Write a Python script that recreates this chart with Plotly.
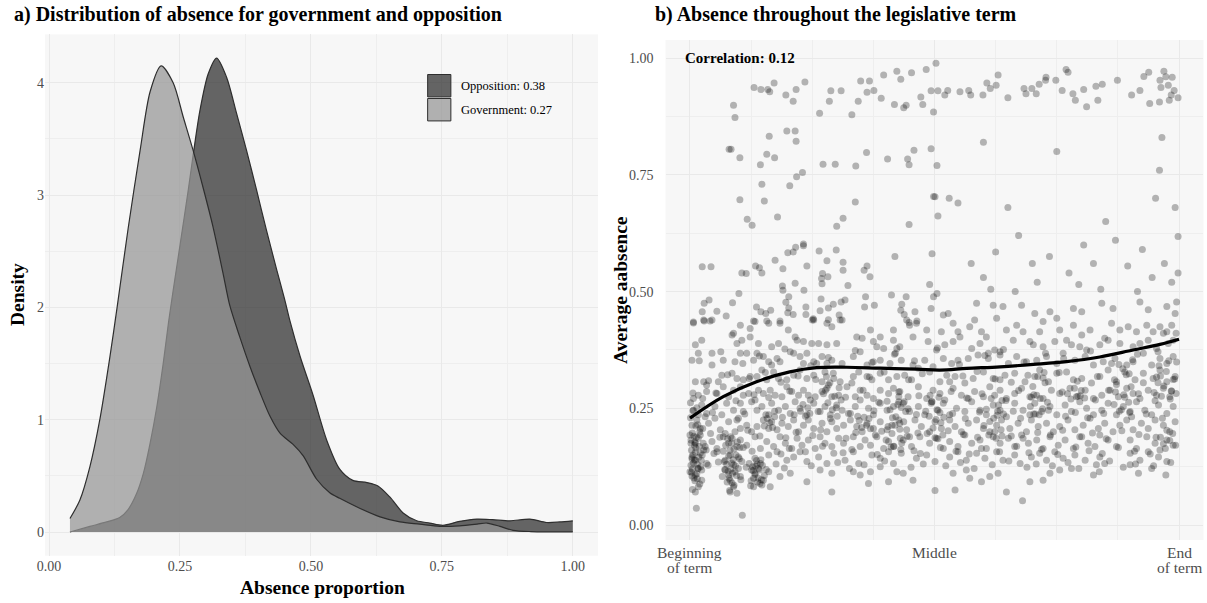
import plotly.graph_objects as go

FONT = "Liberation Serif"

# ---- panel a: kernel density of absence by side of the house ----
opp_absence = [0.040, 0.078, 0.110, 0.135, 0.151, 0.167, 0.180, 0.193, 0.206, 0.218,
               0.228, 0.237, 0.250, 0.266, 0.275, 0.288, 0.304, 0.320, 0.339, 0.358,
               0.377, 0.396, 0.415, 0.435, 0.450, 0.460, 0.479, 0.504, 0.530, 0.555,
               0.580, 0.607, 0.628, 0.651, 0.676, 0.702, 0.727, 0.752, 0.784, 0.817,
               0.847, 0.880, 0.918, 0.950, 0.975, 1.000]
opp_density = [0.00, 0.05, 0.09, 0.13, 0.20, 0.34, 0.52, 0.79, 1.12, 1.50,
               1.86, 2.15, 2.55, 3.05, 3.35, 3.75, 4.08, 4.22, 4.05, 3.73,
               3.40, 3.05, 2.69, 2.33, 2.07, 1.88, 1.57, 1.22, 0.82, 0.56,
               0.46, 0.44, 0.41, 0.31, 0.17, 0.10, 0.08, 0.06, 0.095, 0.115,
               0.11, 0.10, 0.115, 0.085, 0.09, 0.10]

gov_absence = [0.040, 0.059, 0.078, 0.097, 0.116, 0.130, 0.151, 0.174, 0.193, 0.214,
               0.237, 0.256, 0.275, 0.294, 0.313, 0.332, 0.345, 0.364, 0.384, 0.403,
               0.422, 0.441, 0.466, 0.485, 0.511, 0.536, 0.555, 0.594, 0.632, 0.670,
               0.708, 0.746, 0.784, 0.817, 0.836, 0.861, 0.886, 0.920, 0.960, 1.000]
gov_density = [0.12, 0.285, 0.58, 1.00, 1.55, 2.00, 2.70, 3.40, 3.92, 4.15,
               4.00, 3.70, 3.40, 3.07, 2.72, 2.31, 2.02, 1.74, 1.47, 1.24,
               1.03, 0.88, 0.78, 0.68, 0.47, 0.35, 0.30, 0.21, 0.135, 0.09,
               0.07, 0.05, 0.055, 0.07, 0.08, 0.05, 0.015, 0.004, 0.002, 0.002]

opp_mean = 0.38
gov_mean = 0.27

# ---- panel b: MP average absence vs. position in the term ----
# pairs are (term position, average absence), both in thousandths
mps_top = [
    (89, 899), (92, 873), (131, 937), (145, 933), (159, 933), (163, 928), (172, 947), (196, 921),
    (211, 908), (217, 933), (235, 949), (265, 882), (285, 908), (288, 930), (309, 930), (331, 879),
    (344, 908), (349, 951), (367, 951), (362, 927), (376, 931), (391, 914), (396, 964), (418, 901),
    (423, 972), (431, 955), (437, 894), (442, 899), (453, 969), (472, 917), (476, 901), (483, 976),
    (493, 930), (498, 885), (503, 989), (507, 930), (521, 921), (527, 931), (552, 928), (570, 931),
    (574, 921), (599, 921), (607, 947), (614, 935), (626, 942), (630, 964), (650, 915), (683, 935),
    (687, 924), (699, 935), (708, 924), (714, 944), (727, 953), (728, 959), (748, 953), (761, 931),
    (769, 976), (773, 970), (783, 924), (788, 910), (805, 933), (811, 896), (830, 940), (834, 910),
    (843, 944), (874, 953), (903, 921), (920, 931), (928, 961), (938, 970), (940, 903), (960, 906),
    (961, 953), (969, 972), (973, 960), (963, 937), (978, 942), (986, 959), (990, 931), (984, 921),
    (998, 915), (980, 910),
]

mps_mid_early = [
    (80, 805), (84, 805), (102, 787), (162, 833), (198, 844), (215, 844), (217, 822), (157, 794),
    (173, 787), (144, 772), (230, 755), (218, 746), (204, 727), (147, 730), (152, 694), (102, 697),
    (117, 655), (127, 642), (179, 660), (272, 773), (297, 773), (339, 769), (361, 798), (404, 784),
    (445, 784), (448, 772), (458, 803), (493, 806), (505, 770), (498, 704), (501, 703), (507, 662),
    (338, 692), (313, 657), (300, 640), (448, 644),
    (232, 602), (232, 598), (216, 595), (211, 585), (200, 583), (264, 587), (299, 589), (174, 567),
    (280, 566), (313, 563), (419, 575), (495, 581), (25, 553), (43, 553), (134, 555), (142, 551),
    (147, 540), (106, 540), (115, 539), (190, 549), (239, 555), (271, 539), (269, 528), (282, 532),
    (313, 546), (323, 513), (356, 546), (362, 555), (368, 532), (189, 512), (190, 503), (215, 518),
    (233, 503), (270, 517), (100, 496), (202, 489), (268, 484), (359, 489), (412, 493), (442, 489),
    (490, 515), (498, 489), (505, 496),
    (39, 482), (29, 475), (87, 476), (136, 467), (145, 457), (155, 453), (165, 460), (196, 477),
    (202, 465), (200, 455), (211, 451), (237, 467), (237, 451), (250, 439), (266, 459), (283, 465),
    (293, 473), (305, 450), (311, 439), (309, 478), (317, 482), (357, 467), (377, 471), (433, 473),
    (431, 460), (438, 451), (460, 457), (493, 464), (25, 457), (55, 458), (74, 448), (7, 435),
    (29, 437), (41, 437), (130, 437), (157, 437), (184, 437), (252, 442), (283, 440), (448, 434),
    (464, 437),
]

mps_low_early = [
    (7, 433), (28, 439), (45, 439), (89, 411), (103, 428), (123, 421), (133, 436), (161, 432),
    (184, 432), (201, 418), (253, 439), (280, 432), (290, 425), (307, 439), (341, 403), (352, 400),
    (369, 418), (389, 403), (416, 418),
    (11, 386), (24, 396), (45, 368), (86, 407), (96, 389), (106, 396), (123, 403), (140, 389),
    (167, 382), (181, 389), (205, 371), (215, 403), (219, 396), (232, 393), (249, 389), (263, 389),
    (280, 386), (300, 389), (348, 371), (375, 393), (382, 382), (396, 378), (416, 396), (423, 378),
    (4, 353), (17, 368), (45, 343), (68, 353), (92, 350), (103, 368), (116, 368), (130, 353),
    (137, 368), (150, 361), (161, 350), (167, 343), (178, 357), (184, 350), (212, 368), (225, 361),
    (232, 346), (239, 368), (253, 350), (259, 346), (270, 361), (280, 346), (290, 353), (311, 346),
    (334, 361), (362, 343), (375, 350), (389, 353), (409, 346), (420, 368),
    (11, 307), (28, 307), (34, 300), (58, 307), (65, 321), (86, 325), (96, 314), (109, 311),
    (123, 318), (137, 318), (147, 332), (157, 311), (171, 328), (181, 314), (198, 311), (212, 321),
    (225, 332), (239, 314), (253, 321), (270, 307), (276, 328), (283, 300), (294, 314), (307, 307),
    (334, 318), (345, 328), (362, 318), (372, 311), (389, 325), (406, 311), (423, 318),
    (7, 271), (17, 278), (34, 286), (55, 282), (68, 296), (79, 275), (89, 289), (103, 296),
    (109, 278), (120, 282), (133, 268), (140, 289), (150, 282), (164, 289), (174, 278), (188, 275),
    (198, 296), (208, 286), (222, 278), (232, 289), (242, 278), (256, 275), (270, 286), (280, 293),
    (290, 275), (304, 278), (321, 296), (338, 275), (348, 289), (362, 278), (375, 271), (389, 289),
    (406, 282), (416, 293), (427, 275),
    (7, 246), (24, 257), (34, 239), (51, 254), (65, 236), (75, 261), (89, 246), (103, 261),
    (109, 243), (126, 264), (137, 246), (147, 254), (161, 236), (167, 261), (181, 246), (195, 254),
    (205, 239), (215, 264), (225, 250), (239, 236), (253, 261), (266, 243), (276, 254), (287, 236),
    (300, 257), (311, 246), (324, 239), (338, 254), (348, 268), (365, 250), (375, 236), (389, 261),
    (403, 246), (416, 254), (427, 264),
    (4, 214), (14, 225), (21, 207), (38, 218), (51, 229), (62, 204), (79, 221), (96, 225),
    (103, 207), (116, 214), (126, 200), (137, 211), (150, 225), (161, 207), (167, 221), (178, 204),
    (188, 218), (201, 211), (212, 225), (222, 200), (232, 214), (242, 225), (253, 207), (270, 218),
    (280, 200), (290, 221), (300, 207), (314, 214), (328, 225), (341, 211), (352, 200), (362, 218),
    (375, 207), (389, 221), (403, 204), (413, 214), (427, 225),
    (0, 193), (11, 175), (17, 186), (31, 168), (45, 179), (55, 164), (68, 189), (79, 175),
    (86, 186), (96, 168), (103, 182), (116, 171), (133, 189), (144, 164), (157, 179), (171, 168),
    (184, 189), (195, 175), (208, 164), (219, 186), (229, 171), (242, 182), (256, 164), (266, 189),
    (276, 175), (290, 168), (304, 186), (314, 175), (334, 189), (348, 168), (358, 182), (369, 171),
    (382, 189), (396, 164), (406, 179), (416, 168), (430, 186),
    (4, 146), (11, 139), (21, 154), (34, 132), (55, 157), (72, 139), (82, 150), (89, 129),
    (99, 146), (106, 136), (133, 143), (144, 132), (161, 150), (178, 157), (198, 139), (212, 146),
    (225, 157), (239, 136), (263, 146), (280, 132), (294, 154), (317, 139), (334, 157), (345, 132),
    (372, 150), (389, 143), (406, 157), (416, 132),
    (0, 114), (11, 107), (17, 121), (24, 96), (72, 118), (79, 107), (82, 96), (92, 114),
    (103, 104), (126, 118), (133, 111), (140, 121), (150, 96), (161, 114), (184, 104), (205, 111),
    (239, 93), (266, 118), (290, 111), (334, 114), (348, 107), (369, 114), (389, 125), (423, 114),
    (11, 71), (17, 82), (82, 71), (89, 82), (96, 68), (130, 82), (147, 86), (164, 82),
    (290, 71), (365, 89), (406, 93), (13, 36), (107, 21),
    (3, 160), (6, 150), (9, 140), (2, 175), (12, 165), (15, 130), (5, 120), (18, 145),
    (8, 190), (20, 200), (4, 105), (14, 110), (22, 125), (10, 95), (25, 150), (1, 230),
    (6, 245), (16, 215), (27, 175), (2, 128),
    (75, 130), (78, 115), (82, 160), (85, 175), (88, 140), (80, 100), (90, 85), (84, 120),
    (77, 185), (92, 200), (86, 90), (94, 150),
    (128, 125), (133, 108), (137, 130), (142, 118), (130, 100), (145, 140), (138, 92),
]

mps_low_late = [
    (528, 453), (586, 475), (620, 471), (640, 468), (678, 471), (705, 453), (736, 457), (750, 443),
    (784, 464), (801, 457), (842, 475), (865, 464), (920, 478), (937, 461), (975, 468), (992, 453),
    (995, 478), (518, 450),
    (443, 439), (449, 428), (463, 432), (484, 418), (514, 414), (538, 432), (548, 414), (572, 425),
    (582, 439), (596, 414), (606, 403), (627, 443), (647, 418), (668, 428), (681, 414), (715, 414),
    (722, 436), (756, 418), (784, 428), (801, 407), (818, 418), (848, 400), (862, 432), (879, 418),
    (896, 425), (913, 414), (934, 428), (947, 414), (961, 425), (975, 414), (985, 428), (994, 411),
    (429, 382), (456, 403), (487, 393), (504, 375), (521, 386), (538, 393), (552, 403), (576, 378),
    (593, 389), (610, 368), (623, 375), (634, 371), (661, 396), (695, 393), (702, 386), (722, 382),
    (746, 393), (770, 396), (780, 386), (797, 382), (811, 375), (838, 386), (855, 396), (879, 389),
    (906, 382), (920, 389), (937, 396), (954, 378), (968, 411), (978, 389), (988, 396),
    (432, 353), (456, 343), (480, 353), (497, 339), (518, 357), (535, 346), (548, 353), (569, 357),
    (589, 364), (610, 357), (634, 364), (651, 346), (668, 361), (688, 350), (709, 353), (729, 361),
    (750, 346), (763, 368), (787, 353), (808, 361), (825, 343), (845, 350), (869, 357), (893, 343),
    (906, 350), (927, 368), (944, 343), (961, 357), (975, 346), (988, 361),
    (439, 321), (453, 311), (467, 336), (490, 328), (511, 307), (525, 321), (542, 318), (562, 304),
    (579, 314), (600, 328), (620, 314), (634, 311), (644, 321), (664, 325), (685, 307), (705, 318),
    (715, 332), (733, 307), (750, 325), (770, 328), (784, 311), (801, 314), (821, 304), (838, 318),
    (855, 332), (872, 307), (889, 328), (910, 311), (927, 325), (947, 314), (961, 332), (975, 307),
    (992, 318),
    (429, 286), (446, 275), (467, 296), (484, 271), (497, 289), (511, 282), (521, 268), (538, 293),
    (555, 278), (569, 271), (582, 286), (600, 275), (613, 296), (623, 278), (634, 289), (647, 271),
    (664, 282), (678, 293), (695, 275), (709, 278), (722, 271), (739, 289), (756, 282), (777, 293),
    (790, 275), (808, 289), (825, 271), (842, 278), (859, 289), (876, 275), (893, 293), (906, 282),
    (920, 271), (937, 289), (954, 278), (968, 293), (981, 275), (994, 282),
    (436, 261), (449, 243), (467, 254), (480, 236), (494, 264), (507, 246), (518, 261), (531, 236),
    (545, 250), (562, 243), (576, 264), (593, 246), (606, 236), (620, 257), (634, 246), (647, 232),
    (664, 261), (681, 246), (695, 236), (705, 261), (719, 243), (736, 254), (750, 236), (767, 257),
    (780, 243), (797, 264), (811, 250), (825, 236), (842, 246), (855, 261), (872, 236), (886, 254),
    (900, 243), (913, 264), (930, 246), (944, 236), (958, 257), (975, 239), (988, 254),
    (429, 218), (443, 204), (460, 225), (473, 211), (490, 200), (501, 221), (514, 207), (531, 225),
    (542, 211), (555, 200), (569, 218), (586, 225), (600, 207), (613, 200), (627, 214), (637, 225),
    (654, 207), (671, 218), (688, 200), (698, 225), (712, 211), (729, 218), (743, 200), (756, 211),
    (773, 225), (787, 204), (804, 214), (818, 229), (835, 207), (848, 218), (865, 200), (879, 214),
    (893, 225), (906, 204), (923, 218), (937, 207), (951, 225), (968, 214), (981, 200), (992, 221),
    (436, 182), (453, 168), (470, 189), (490, 175), (504, 186), (518, 164), (531, 179), (548, 168),
    (562, 193), (576, 175), (593, 182), (606, 164), (620, 189), (634, 175), (651, 186), (664, 168),
    (678, 193), (692, 175), (709, 182), (722, 164), (736, 189), (753, 171), (767, 182), (784, 164),
    (801, 189), (814, 175), (828, 168), (838, 193), (855, 182), (872, 168), (900, 182), (913, 164),
    (934, 189), (951, 175), (961, 161), (975, 182), (988, 171),
    (432, 154), (463, 143), (484, 150), (501, 136), (531, 146), (548, 157), (565, 139), (586, 154),
    (603, 143), (627, 157), (640, 139), (664, 150), (675, 132), (698, 146), (715, 154), (729, 139),
    (746, 157), (763, 143), (787, 150), (808, 139), (838, 146), (848, 132), (900, 154), (920, 139),
    (937, 157), (958, 146), (975, 136),
    (436, 111), (456, 96), (538, 111), (565, 118), (572, 100), (596, 93), (613, 104), (630, 111),
    (695, 93), (722, 96), (736, 111), (756, 118), (780, 121), (825, 107), (837, 114), (900, 129),
    (917, 111), (944, 121), (973, 107),
    (501, 74), (542, 75), (647, 71), (680, 52),
]

# denser clumps of MPs within the main band
mps_clusters = [
    (2, 182), (5, 197), (9, 171), (13, 188), (4, 142), (7, 133), (11, 156), (16, 121),
    (19, 168), (23, 139), (3, 113), (8, 101), (12, 212), (17, 236), (21, 193), (26, 207),
    (1, 262), (6, 283), (14, 251), (24, 118), (28, 161), (10, 178), (15, 99), (20, 88), (5, 76),
    (66, 104), (70, 136), (73, 171), (76, 92), (79, 148), (83, 189), (87, 111), (90, 163),
    (93, 127), (97, 178), (101, 142), (104, 97), (68, 158), (72, 196), (81, 74), (85, 133),
    (95, 106), (99, 121), (102, 166), (71, 119),
    (121, 132), (125, 95), (129, 117), (134, 126), (139, 101), (143, 89), (148, 128), (152, 106),
    (156, 119), (124, 84), (136, 138), (146, 97),
    (152, 212), (158, 228), (163, 219), (169, 209), (173, 232), (155, 236),
    (226, 244), (231, 258), (236, 233), (241, 251), (245, 239),
    (277, 289), (282, 262), (286, 305), (291, 247), (296, 276), (301, 233), (305, 294), (309, 268),
    (279, 318), (299, 251),
    (346, 224), (351, 209), (356, 231), (361, 214), (366, 228), (369, 206),
    (401, 182), (405, 211), (409, 247), (413, 196), (417, 169), (421, 232), (425, 258), (429, 205),
    (433, 176), (437, 221), (441, 243), (444, 190), (403, 265), (419, 214), (431, 162),
    (432, 252), (438, 264), (446, 249),
    (485, 196), (489, 233), (493, 261), (497, 208), (501, 187), (505, 247), (509, 274), (513, 219),
    (517, 193), (491, 278), (503, 226), (511, 241),
    (601, 213), (606, 248), (611, 193), (616, 271), (621, 229), (626, 186), (631, 257), (636, 204),
    (641, 238), (646, 267), (613, 222), (629, 244), (638, 191),
    (696, 254), (701, 297), (706, 238), (711, 318), (716, 271), (721, 249), (726, 305), (703, 279),
    (714, 236), (724, 327),
    (772, 281), (779, 270), (786, 293), (793, 276), (800, 288), (807, 272),
    (867, 258), (872, 301), (877, 344), (882, 247), (887, 279), (892, 322), (897, 263), (902, 296),
    (905, 354), (870, 285), (885, 335), (899, 241),
    (949, 284), (954, 317), (959, 341), (964, 276), (969, 298), (974, 329), (979, 352), (984, 287),
    (988, 312), (957, 305), (982, 270),
    (962, 188), (968, 174), (975, 203), (981, 181), (987, 196), (993, 171),
]

mps_fill = [
    (37, 128), (58, 135), (115, 124), (176, 131), (193, 122), (248, 127), (302, 134), (326, 121),
    (356, 129), (398, 137), (452, 124), (477, 131), (523, 127), (553, 134), (581, 121), (618, 129),
    (652, 137), (689, 124), (708, 131), (741, 127), (773, 134), (795, 121), (831, 129), (858, 137),
    (886, 124), (911, 131), (948, 127), (983, 134),
    (33, 161), (49, 153), (109, 166), (127, 158), (186, 152), (203, 164), (236, 157), (271, 169),
    (313, 155), (331, 162), (383, 151), (411, 167), (458, 159), (471, 153), (512, 166), (544, 158),
    (571, 152), (596, 164), (633, 157), (668, 169), (693, 155), (719, 162), (752, 151), (789, 167),
    (816, 159), (843, 153), (876, 166), (909, 158), (941, 152), (972, 164),
    (42, 196), (61, 188), (118, 203), (143, 191), (196, 187), (217, 199), (251, 192), (267, 204),
    (319, 186), (339, 198), (379, 193), (392, 201), (449, 189), (466, 197), (507, 185), (528, 202),
    (559, 194), (588, 188), (623, 200), (657, 191), (681, 186), (711, 198), (737, 193), (762, 203),
    (797, 189), (823, 197), (851, 185), (883, 202), (918, 194), (953, 188),
    (31, 232), (46, 241), (99, 229), (112, 238), (173, 244), (189, 231), (213, 236), (262, 243),
    (287, 228), (328, 239), (343, 233), (376, 245), (414, 230), (463, 237), (482, 244), (519, 231),
    (537, 239), (563, 228), (592, 242), (628, 235), (661, 244), (676, 229), (703, 238), (733, 246),
    (768, 233), (788, 241), (813, 230), (846, 239), (878, 244), (903, 232), (933, 238), (966, 229),
    (26, 271), (53, 283), (94, 266), (131, 279), (161, 273), (204, 287), (246, 268), (273, 281),
    (318, 274), (354, 289), (386, 263), (427, 285), (468, 277), (495, 264), (534, 286), (566, 272),
    (597, 281), (638, 267), (672, 288), (698, 274), (731, 263), (761, 285), (798, 277), (829, 268),
    (856, 289), (889, 274), (917, 281), (951, 266), (985, 287),
    (38, 309), (77, 322), (121, 314), (154, 327), (186, 306), (221, 319), (257, 312), (293, 325),
    (331, 304), (367, 317), (397, 328), (447, 311), (475, 324), (531, 307), (558, 319), (587, 329),
    (624, 313), (657, 306), (691, 321), (722, 315), (755, 327), (792, 308), (833, 318), (868, 311),
    (898, 324), (927, 305), (962, 319), (991, 313),
    (19, 352), (63, 371), (108, 346), (142, 362), (194, 377), (247, 341), (283, 359), (338, 374),
    (372, 348), (418, 366), (459, 352), (506, 379), (551, 344), (603, 363), (641, 376), (683, 349),
    (727, 368), (764, 357), (819, 373), (862, 346), (915, 366), (957, 371), (995, 349),
]

mps_mid_late = [
    (530, 700), (548, 690), (575, 560), (600, 530), (615, 505), (625, 585), (650, 680), (665, 500),
    (672, 620), (700, 560), (710, 520), (735, 575), (750, 800), (775, 540), (795, 515), (805, 600),
    (825, 560), (840, 505), (850, 650), (870, 610), (895, 555), (915, 500), (925, 590), (945, 530),
    (952, 700), (960, 760), (970, 560), (985, 520), (992, 680), (998, 540), (965, 830), (600, 820),
    (998, 618),
]

# loess fit drawn over the scatter
smooth_pos = [0.0, 0.068, 0.136, 0.204, 0.259, 0.320, 0.389, 0.464, 0.511, 0.566,
              0.634, 0.702, 0.770, 0.838, 0.906, 0.961, 1.0]
smooth_abs = [0.229, 0.275, 0.307, 0.328, 0.337, 0.338, 0.336, 0.334, 0.332, 0.3355,
              0.339, 0.344, 0.350, 0.360, 0.375, 0.387, 0.398]
correlation = 0.12

# term axis labels (one entry per line of text)
term_ticks = [0, 0.5, 1]
term_labels = [("Beginning", "of term"), ("Middle",), ("End", "of term")]

groups = (mps_top, mps_mid_early, mps_low_early, mps_low_late, mps_clusters, mps_fill,
          mps_mid_late)
term_pos = [p[0] / 1000 for g in groups for p in g]
avg_absence = [p[1] / 1000 for g in groups for p in g]

# ---- styling ----
OPP_FILL = "rgba(45,45,45,0.73)"
GOV_FILL = "rgba(149,149,149,0.73)"
OUTLINE = "#2e2e2e"
GRID = "#e9e9e9"
MINOR = "#eeeeee"
TEXT_GREY = "#4d4d4d"
NUM_FONT = dict(family=FONT, size=14, color=TEXT_GREY)

fig = go.Figure()

fig.add_trace(go.Scatter(
    x=opp_absence, y=opp_density, mode="lines", fill="tozeroy", fillcolor=OPP_FILL,
    line=dict(color=OUTLINE, width=1.2, shape="spline", smoothing=0.8),
    xaxis="x", yaxis="y", showlegend=False, hoverinfo="skip"))
fig.add_trace(go.Scatter(
    x=gov_absence, y=gov_density, mode="lines", fill="tozeroy", fillcolor=GOV_FILL,
    line=dict(color=OUTLINE, width=1.2, shape="spline", smoothing=0.8),
    xaxis="x", yaxis="y", showlegend=False, hoverinfo="skip"))

fig.add_trace(go.Scatter(
    x=term_pos, y=avg_absence, mode="markers",
    marker=dict(size=7, color="rgba(0,0,0,0.28)", line=dict(width=0)),
    xaxis="x2", yaxis="y2", showlegend=False, hoverinfo="skip"))
fig.add_trace(go.Scatter(
    x=smooth_pos, y=smooth_abs, mode="lines",
    line=dict(color="black", width=3.2, shape="spline"),
    xaxis="x2", yaxis="y2", showlegend=False, hoverinfo="skip"))


def axis(domain, rng, tickvals, ticktext, minor_vals, anchor, standoff=None, labels=True):
    d = dict(domain=domain, range=rng, tickvals=tickvals, ticktext=ticktext,
             showgrid=True, gridcolor=GRID, gridwidth=1.1, zeroline=False,
             showline=False, ticks="", tickfont=NUM_FONT, anchor=anchor, fixedrange=True,
             automargin=False, showticklabels=labels,
             minor=dict(tickvals=minor_vals, showgrid=True, gridcolor=MINOR, gridwidth=0.7))
    if standoff is not None:
        d["ticklabelstandoff"] = standoff
    return d


xa_ticks = [0, 0.25, 0.5, 0.75, 1.0]
fig.update_layout(
    width=1207, height=603, autosize=False,
    margin=dict(l=0, r=0, t=0, b=0, autoexpand=False),
    paper_bgcolor="white", plot_bgcolor="#f7f7f7",
    font=dict(family=FONT),
    xaxis=axis([0.0373, 0.4954], [-0.0076, 1.048], xa_ticks, [f"{v:.2f}" for v in xa_ticks],
               [0.125, 0.375, 0.625, 0.875], "y"),
    yaxis=axis([0.0784, 0.943], [-0.211, 4.431], [0, 1, 2, 3, 4], ["0", "1", "2", "3", "4"],
               [0.5, 1.5, 2.5, 3.5], "x"),
    xaxis2=axis([0.5514, 0.9971], [-0.05, 1.05], term_ticks, None,
                [0.125, 0.25, 0.375, 0.625, 0.75, 0.875], "y2", labels=False),
    yaxis2=axis([0.1045, 0.9337], [-0.032, 1.039], xa_ticks, [f"{v:.2f}" for v in xa_ticks],
                [0.125, 0.375, 0.625, 0.875], "x2", standoff=11),
)

ann = [
    dict(text="<b>a) Distribution of absence for government and opposition</b>",
         x=12 / 1207, y=1 - 15 / 603, xanchor="left", yanchor="middle",
         font=dict(size=20, color="black")),
    dict(text="<b>b) Absence throughout the legislative term</b>",
         x=653 / 1207, y=1 - 15 / 603, xanchor="left", yanchor="middle",
         font=dict(size=20, color="black")),
    dict(text="<b>Density</b>", x=17 / 1207, y=1 - 295 / 603, textangle=-90,
         xanchor="center", yanchor="middle", font=dict(size=19.5, color="black")),
    dict(text="<b>Absence proportion</b>", x=322 / 1207, y=1 - 587 / 603,
         xanchor="center", yanchor="middle", font=dict(size=19.5, color="black")),
    dict(text="<b>Average aabsence</b>", x=620 / 1207, y=1 - 290 / 603, textangle=-90,
         xanchor="center", yanchor="middle", font=dict(size=19.5, color="black")),
]
for a in ann:
    a.update(xref="paper", yref="paper", showarrow=False)

# term-axis labels, one annotation per text line for tight line spacing
for tv, lines in zip(term_ticks, term_labels):
    for i, line in enumerate(lines):
        ann.append(dict(text=line, xref="x2", yref="paper", x=tv,
                        y=1 - (552 + 15.5 * i) / 603, xanchor="center", yanchor="middle",
                        showarrow=False, font=dict(family=FONT, size=15.5, color=TEXT_GREY)))

ann.append(dict(text=f"<b>Correlation: {correlation:.2f}</b>", xref="x2", yref="y2",
                x=-0.015, y=1.0, xanchor="left", yanchor="middle", showarrow=False,
                font=dict(size=15, color="black")))

# legend keys for panel a
legend_rows = [("Opposition", opp_mean, OPP_FILL, 0.880, 0.923),
               ("Government", gov_mean, GOV_FILL, 0.834, 0.877)]
shapes = []
for name, mean, fill, y0, y1 in legend_rows:
    shapes.append(dict(type="rect", xref="x domain", yref="y domain",
                       x0=0.692, x1=0.734, y0=y0, y1=y1, fillcolor=fill,
                       line=dict(color=OUTLINE, width=1)))
    ann.append(dict(text=f"{name}: {mean:.2f}", xref="x domain", yref="y domain",
                    x=0.749, y=(y0 + y1) / 2, xanchor="left", yanchor="middle",
                    showarrow=False, font=dict(size=12.5, color="black")))

fig.update_layout(annotations=ann, shapes=shapes)
fig.write_html("out.html")
